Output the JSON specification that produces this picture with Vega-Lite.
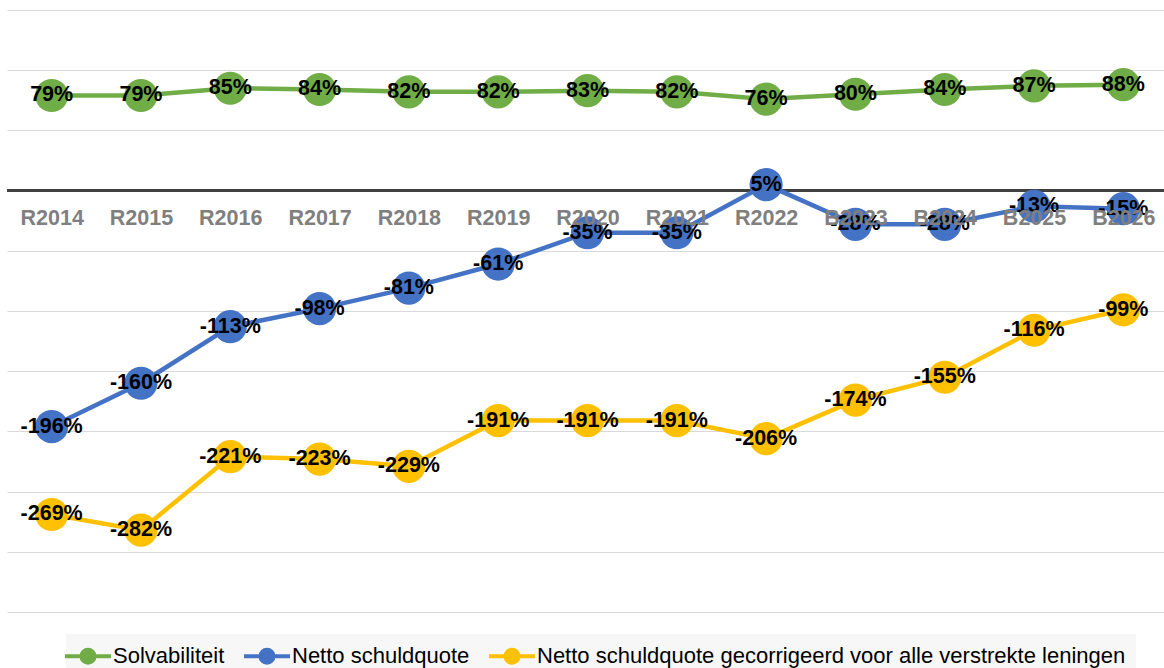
{
  "$schema": "https://vega.github.io/schema/vega-lite/v6.json",
  "width": 1161,
  "height": 602,
  "autosize": {"type": "none"},
  "padding": {"left": 7, "top": 10, "right": 0, "bottom": 56},
  "background": "white",
  "config": {
    "view": {"stroke": null},
    "font": "Liberation Sans",
    "locale": {"number": {"decimal": ".", "thousands": ",", "grouping": [3], "currency": ["", ""], "minus": "-"}}
  },
  "data": {
    "values": [
      {"jaar": "R2014", "reeks": "Solvabiliteit", "waarde": 0.79},
      {"jaar": "R2015", "reeks": "Solvabiliteit", "waarde": 0.79},
      {"jaar": "R2016", "reeks": "Solvabiliteit", "waarde": 0.85},
      {"jaar": "R2017", "reeks": "Solvabiliteit", "waarde": 0.84},
      {"jaar": "R2018", "reeks": "Solvabiliteit", "waarde": 0.82},
      {"jaar": "R2019", "reeks": "Solvabiliteit", "waarde": 0.82},
      {"jaar": "R2020", "reeks": "Solvabiliteit", "waarde": 0.83},
      {"jaar": "R2021", "reeks": "Solvabiliteit", "waarde": 0.82},
      {"jaar": "R2022", "reeks": "Solvabiliteit", "waarde": 0.76},
      {"jaar": "B2023", "reeks": "Solvabiliteit", "waarde": 0.80},
      {"jaar": "B2024", "reeks": "Solvabiliteit", "waarde": 0.84},
      {"jaar": "B2025", "reeks": "Solvabiliteit", "waarde": 0.87},
      {"jaar": "B2026", "reeks": "Solvabiliteit", "waarde": 0.88},
      {"jaar": "R2014", "reeks": "Netto schuldquote", "waarde": -1.96},
      {"jaar": "R2015", "reeks": "Netto schuldquote", "waarde": -1.60},
      {"jaar": "R2016", "reeks": "Netto schuldquote", "waarde": -1.13},
      {"jaar": "R2017", "reeks": "Netto schuldquote", "waarde": -0.98},
      {"jaar": "R2018", "reeks": "Netto schuldquote", "waarde": -0.81},
      {"jaar": "R2019", "reeks": "Netto schuldquote", "waarde": -0.61},
      {"jaar": "R2020", "reeks": "Netto schuldquote", "waarde": -0.35},
      {"jaar": "R2021", "reeks": "Netto schuldquote", "waarde": -0.35},
      {"jaar": "R2022", "reeks": "Netto schuldquote", "waarde": 0.05},
      {"jaar": "B2023", "reeks": "Netto schuldquote", "waarde": -0.28},
      {"jaar": "B2024", "reeks": "Netto schuldquote", "waarde": -0.28},
      {"jaar": "B2025", "reeks": "Netto schuldquote", "waarde": -0.13},
      {"jaar": "B2026", "reeks": "Netto schuldquote", "waarde": -0.15},
      {"jaar": "R2014", "reeks": "Netto schuldquote gecorrigeerd voor alle verstrekte leningen", "waarde": -2.69},
      {"jaar": "R2015", "reeks": "Netto schuldquote gecorrigeerd voor alle verstrekte leningen", "waarde": -2.82},
      {"jaar": "R2016", "reeks": "Netto schuldquote gecorrigeerd voor alle verstrekte leningen", "waarde": -2.21},
      {"jaar": "R2017", "reeks": "Netto schuldquote gecorrigeerd voor alle verstrekte leningen", "waarde": -2.23},
      {"jaar": "R2018", "reeks": "Netto schuldquote gecorrigeerd voor alle verstrekte leningen", "waarde": -2.29},
      {"jaar": "R2019", "reeks": "Netto schuldquote gecorrigeerd voor alle verstrekte leningen", "waarde": -1.91},
      {"jaar": "R2020", "reeks": "Netto schuldquote gecorrigeerd voor alle verstrekte leningen", "waarde": -1.91},
      {"jaar": "R2021", "reeks": "Netto schuldquote gecorrigeerd voor alle verstrekte leningen", "waarde": -1.91},
      {"jaar": "R2022", "reeks": "Netto schuldquote gecorrigeerd voor alle verstrekte leningen", "waarde": -2.06},
      {"jaar": "B2023", "reeks": "Netto schuldquote gecorrigeerd voor alle verstrekte leningen", "waarde": -1.74},
      {"jaar": "B2024", "reeks": "Netto schuldquote gecorrigeerd voor alle verstrekte leningen", "waarde": -1.55},
      {"jaar": "B2025", "reeks": "Netto schuldquote gecorrigeerd voor alle verstrekte leningen", "waarde": -1.16},
      {"jaar": "B2026", "reeks": "Netto schuldquote gecorrigeerd voor alle verstrekte leningen", "waarde": -0.99}
    ]
  },
  "encoding": {
    "x": {
      "field": "jaar", "type": "nominal", "sort": null,
      "scale": {"type": "point", "padding": 0.5},
      "axis": {
        "orient": "bottom", "offset": -421.4, "title": null, "ticks": false, "grid": false,
        "domain": false, "zindex": 1,
        "labelFontSize": 21.5, "labelFontWeight": "bold", "labelColor": "#7f7f7f",
        "labelPadding": 17, "labelAngle": 0, "labelFont": "Liberation Sans"
      }
    },
    "y": {
      "field": "waarde", "type": "quantitative",
      "scale": {"domain": [-3.5, 1.5], "nice": false, "zero": false},
      "axis": {
        "title": null, "labels": false, "ticks": false, "domain": false, "grid": true,
        "gridColor": "#d9d9d9", "gridWidth": 1,
        "values": [-3.5, -3, -2.5, -2, -1.5, -1, -0.5, 0, 0.5, 1, 1.5]
      }
    },
    "color": {
      "field": "reeks", "type": "nominal",
      "scale": {
        "domain": ["Solvabiliteit", "Netto schuldquote", "Netto schuldquote gecorrigeerd voor alle verstrekte leningen"],
        "range": ["#70ad47", "#4472c4", "#ffc000"]
      },
      "legend": {
        "title": null, "orient": "none", "legendX": 59, "legendY": 624,
        "direction": "horizontal", "columns": 3,
        "labelFontSize": 22, "labelColor": "#000000", "labelFont": "Liberation Sans", "labelLimit": 1000,
        "symbolType": "M-2.3,0H2.3M-0.65,0A0.65,0.65,0,1,0,0.65,0A0.65,0.65,0,1,0,-0.65,0Z",
        "symbolSize": 400, "symbolStrokeWidth": 4,
        "columnPadding": 11, "labelOffset": 13,
        "fillColor": "#f7f7f7", "padding": 10,
        "encode": {
          "symbols": {
            "update": {
              "fill": {"scale": "color", "field": "value"},
              "stroke": {"scale": "color", "field": "value"},
              "opacity": {"value": 1}, "fillOpacity": {"value": 1}, "strokeOpacity": {"value": 1}
            }
          }
        }
      }
    }
  },
  "layer": [
    {
      "mark": {"type": "rule", "color": "#404040", "strokeWidth": 2.5},
      "encoding": {"y": {"datum": 0}, "x": null, "color": null}
    },
    {"mark": {"type": "line", "strokeWidth": 4.5}},
    {"mark": {"type": "circle", "size": 1100, "opacity": 1}},
    {
      "mark": {"type": "text", "fontSize": 21.5, "fontWeight": "bold", "color": "#000000", "font": "Liberation Sans"},
      "encoding": {
        "text": {"field": "waarde", "type": "quantitative", "format": ".0%"},
        "color": {"value": "#000000"}
      }
    }
  ]
}
